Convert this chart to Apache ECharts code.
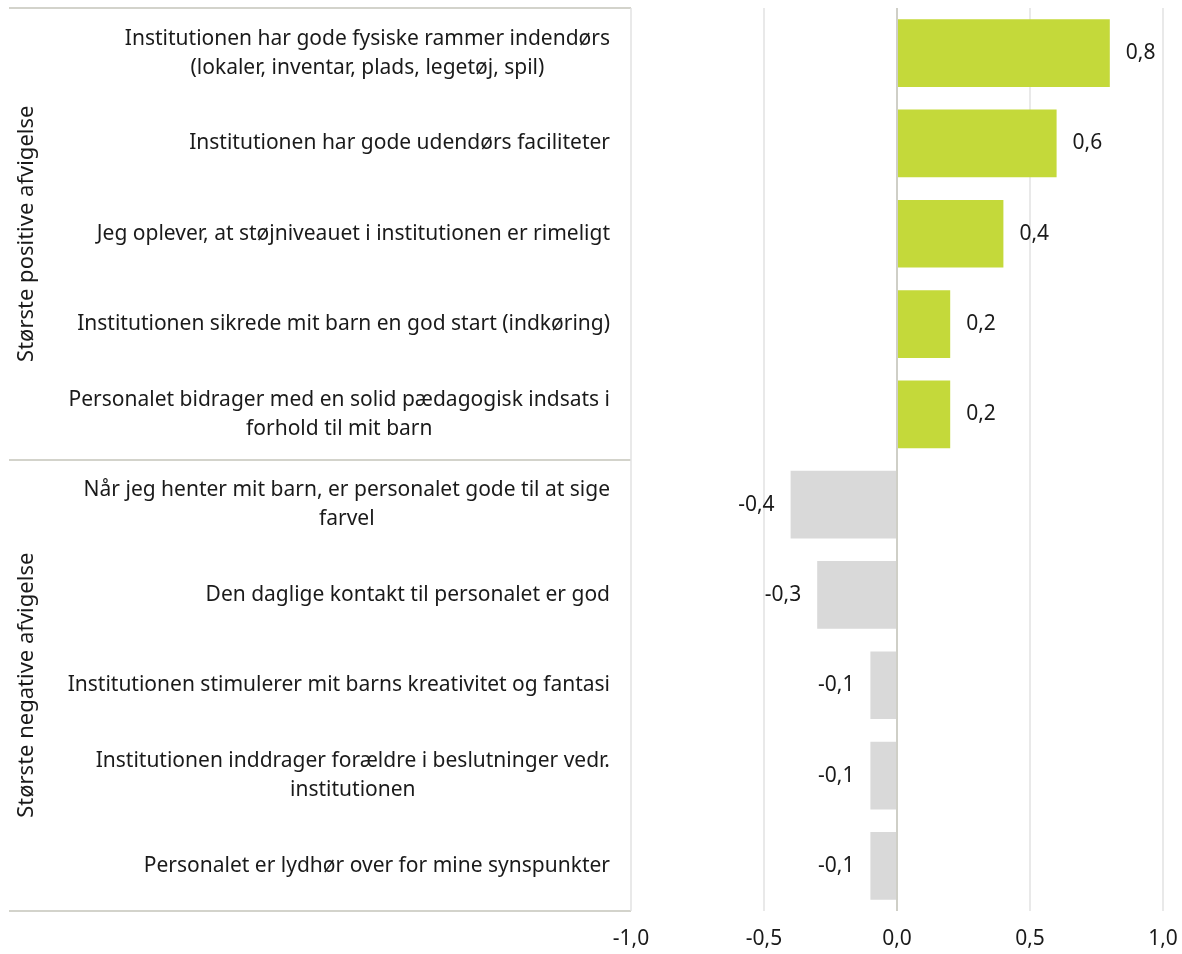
<!DOCTYPE html>
<html>
<head>
<meta charset="utf-8">
<script src="https://cdn.jsdelivr.net/npm/echarts@6/dist/echarts.min.js"></script>
<style>
  html, body { margin: 0; padding: 0; background: #fff; }
  #chart { width: 1182px; height: 954px; }
</style>
</head>
<body>
<div id="chart"></div>
<script>
  var categories = [
    'Institutionen har gode fysiske rammer indendørs\n(lokaler, inventar, plads, legetøj, spil)',
    'Institutionen har gode udendørs faciliteter',
    'Jeg oplever, at støjniveauet i institutionen er rimeligt',
    'Institutionen sikrede mit barn en god start (indkøring)',
    'Personalet bidrager med en solid pædagogisk indsats i\nforhold til mit barn',
    'Når jeg henter mit barn, er personalet gode til at sige\nfarvel',
    'Den daglige kontakt til personalet er god',
    'Institutionen stimulerer mit barns kreativitet og fantasi',
    'Institutionen inddrager forældre i beslutninger vedr.\ninstitutionen',
    'Personalet er lydhør over for mine synspunkter'
  ]
  var values = [0.8, 0.6, 0.4, 0.2, 0.2, -0.4, -0.3, -0.1, -0.1, -0.1]
  var groups = ['Største positive afvigelse', 'Største negative afvigelse']
  var xTicks = [-1, -0.5, 0, 0.5, 1]

  var font = '"Noto Sans", sans-serif'
  var textColor = '#1a1a1a'
  var fmt = function (v) { return v.toFixed(1).replace('.', ',') }

  var chart = echarts.init(document.getElementById('chart'))
  chart.setOption({
    backgroundColor: '#fff',
    animation: false,
    textStyle: { fontFamily: font },
    grid: [
      { left: 631, right: 19, top: 8, bottom: 43 },
      { left: 9, right: 551, top: 8, bottom: 43 }
    ],
    xAxis: [
      {
        type: 'value',
        gridIndex: 0,
        min: xTicks[0],
        max: xTicks[xTicks.length - 1],
        interval: 0.5,
        axisLine: { show: false },
        axisTick: { show: false },
        axisLabel: {
          formatter: fmt,
          color: textColor,
          fontSize: 21,
          fontFamily: font,
          margin: 18
        },
        splitLine: { lineStyle: { color: '#e2e2e2', width: 1.5 } }
      },
      { type: 'value', gridIndex: 1, show: false }
    ],
    yAxis: [
      {
        type: 'category',
        gridIndex: 0,
        inverse: true,
        data: categories,
        axisLine: { show: false },
        axisTick: { show: false },
        axisLabel: {
          margin: 21,
          formatter: function (v) {
            return v.split('\n').map(function (l) { return '{c|' + l + '}' }).join('\n')
          },
          rich: {
            c: { align: 'center', fontSize: 21, lineHeight: 29, color: textColor, fontFamily: font }
          }
        }
      },
      {
        type: 'category',
        gridIndex: 1,
        inverse: true,
        data: groups,
        axisLine: { show: false },
        axisTick: { show: false },
        splitLine: { show: true, lineStyle: { color: '#d3d3cb', width: 2 } },
        axisLabel: {
          inside: true,
          rotate: 90,
          margin: 7,
          color: textColor,
          fontSize: 22,
          fontFamily: font
        }
      }
    ],
    series: [
      {
        type: 'bar',
        xAxisIndex: 0,
        yAxisIndex: 0,
        barCategoryGap: '25%',
        data: values.map(function (v) {
          return {
            value: v,
            itemStyle: { color: v >= 0 ? '#c4d93a' : '#d9d9d9' },
            label: { position: v >= 0 ? 'right' : 'left' }
          }
        }),
        label: {
          show: true,
          distance: 16,
          color: textColor,
          fontSize: 21,
          fontFamily: font,
          formatter: function (p) { return fmt(p.value) }
        },
        markLine: {
          silent: true,
          symbol: 'none',
          label: { show: false },
          lineStyle: { color: '#cfcfc7', width: 2, type: 'solid' },
          data: [{ xAxis: 0 }]
        }
      }
    ]
  })
</script>
</body>
</html>
